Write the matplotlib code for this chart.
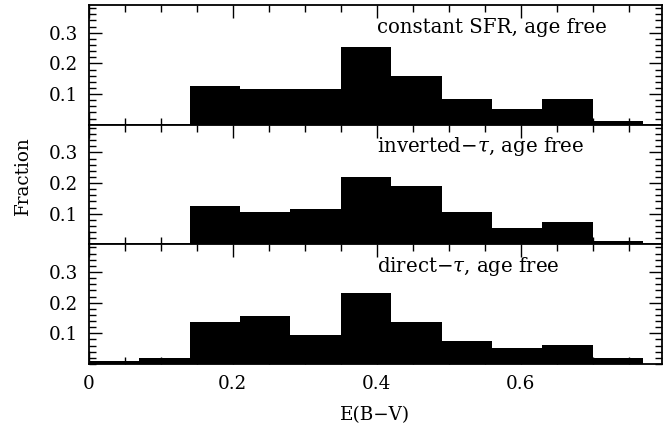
import numpy as np
import matplotlib
matplotlib.use('Agg')
import matplotlib.pyplot as plt
from matplotlib.ticker import MultipleLocator, FixedLocator, FixedFormatter

plt.rcParams['font.family'] = ['DejaVu Serif']
plt.rcParams['mathtext.fontset'] = 'dejavuserif'

# bin edges of E(B-V) histograms (width 0.07)
bin_left = [0.00, 0.07, 0.14, 0.21, 0.28, 0.35, 0.42, 0.49, 0.56, 0.63, 0.70]
bin_width = 0.07

# fractions per bin
frac_constant = [0.0, 0.0, 0.126, 0.116, 0.116, 0.253, 0.158, 0.084, 0.053, 0.084, 0.011]
frac_inverted = [0.0, 0.0, 0.126, 0.105, 0.116, 0.221, 0.189, 0.105, 0.053, 0.074, 0.011]
frac_direct = [0.011, 0.021, 0.137, 0.158, 0.095, 0.232, 0.137, 0.074, 0.053, 0.063, 0.021]

panels = [
    (frac_constant, 'constant SFR, age free'),
    (frac_inverted, r'inverted$-\tau$, age free'),
    (frac_direct, r'direct$-\tau$, age free'),
]

fig = plt.figure(figsize=(6.7, 4.29), dpi=100)
gs = fig.add_gridspec(3, 1, left=0.1324, right=0.988, top=0.988, bottom=0.1515, hspace=0)

axes = []
for i, (frac, label) in enumerate(panels):
    ax = fig.add_subplot(gs[i])
    ax.bar(bin_left, frac, width=bin_width, align='edge', color='black', linewidth=0)
    ax.set_xlim(0, 0.796)
    ax.set_ylim(0, 0.39)
    ax.text(0.40, 0.30, label, fontsize=14.2, ha='left', va='baseline')

    ax.xaxis.set_major_locator(MultipleLocator(0.2))
    ax.xaxis.set_minor_locator(MultipleLocator(0.05))
    ax.yaxis.set_major_locator(FixedLocator([0.1, 0.2, 0.3]))
    ax.yaxis.set_major_formatter(FixedFormatter(['0.1', '0.2', '0.3']))
    ax.yaxis.set_minor_locator(MultipleLocator(0.02))
    ax.tick_params(which='both', direction='in', top=True, right=True, width=1, labelsize=13.2)
    ax.tick_params(which='major', length=9.5, pad=8)
    ax.tick_params(which='minor', length=5)
    for s in ax.spines.values():
        s.set_linewidth(1.3)
    if i < 2:
        ax.tick_params(labelbottom=False)
    else:
        ax.set_xticks([0, 0.2, 0.4, 0.6])
        ax.set_xticklabels(['0', '0.2', '0.4', '0.6'])
        ax.set_xlabel('E(B\u2212V)', fontsize=13.2, labelpad=9)
    axes.append(ax)

fig.text(0.034, 0.59, 'Fraction', rotation=90, fontsize=13.2, ha='center', va='center')

fig.savefig('out.png', dpi=100)
